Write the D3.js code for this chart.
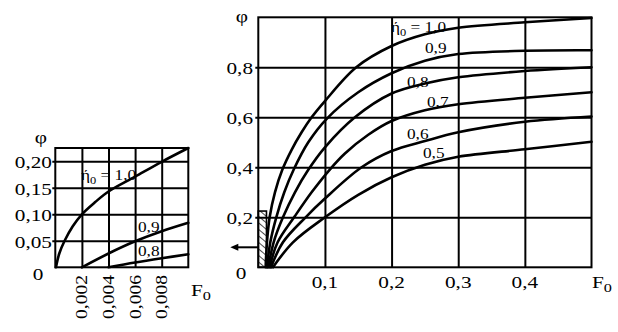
<!DOCTYPE html>
<html><head><meta charset="utf-8">
<script src="https://cdn.jsdelivr.net/npm/d3@7"></script>
<style>
html,body{margin:0;padding:0;background:#fff;}
svg{display:block;}
</style></head><body>
<svg id="chart" width="618" height="332"></svg>
<script>
// ---- Data: phi as a function of F0 for several eta0 values ----
// Main chart (F0 from 0 to 0.5)
const mainEtaLabels = ["1,0", "0,9", "0,8", "0,7", "0,6", "0,5"];
const mainEta10 = [[0.011,0],[0.013,0.1],[0.017,0.2],[0.025,0.3],[0.036,0.39],[0.05,0.47],[0.065,0.54],[0.08,0.6],[0.1,0.665],[0.147,0.8],[0.2,0.885],[0.25,0.932],[0.3,0.958],[0.4,0.98],[0.5,0.997]];
const mainEta09 = [[0.013,0],[0.018,0.1],[0.027,0.2],[0.039,0.3],[0.053,0.39],[0.075,0.5],[0.103,0.595],[0.15,0.7],[0.2,0.776],[0.25,0.826],[0.3,0.853],[0.4,0.866],[0.5,0.868]];
const mainEta08 = [[0.015,0],[0.023,0.1],[0.037,0.2],[0.055,0.3],[0.075,0.39],[0.1,0.48],[0.145,0.6],[0.2,0.695],[0.25,0.735],[0.3,0.76],[0.4,0.785],[0.5,0.8]];
const mainEta07 = [[0.017,0],[0.029,0.1],[0.055,0.205],[0.08,0.3],[0.107,0.39],[0.13,0.455],[0.165,0.53],[0.2,0.585],[0.25,0.628],[0.3,0.652],[0.4,0.678],[0.5,0.7]];
const mainEta06 = [[0.019,0],[0.037,0.1],[0.071,0.2],[0.1,0.275],[0.155,0.4],[0.2,0.465],[0.25,0.505],[0.3,0.54],[0.4,0.582],[0.5,0.603]];
const mainEta05 = [[0.022,0],[0.052,0.1],[0.1,0.2],[0.15,0.29],[0.2,0.36],[0.25,0.41],[0.3,0.442],[0.4,0.472],[0.5,0.502]];
const mainXTicks = [0.1, 0.2, 0.3, 0.4];
const mainXTickLabels = ["0,1", "0,2", "0,3", "0,4"];
const mainYTicks = [0.2, 0.4, 0.6, 0.8];
const mainYTickLabels = ["0,2", "0,4", "0,6", "0,8"];

// Inset chart (F0 from 0 to 0.01), the hatched region of the main chart
const insetEtaLabels = ["1,0", "0,9", "0,8"];
const insetEta10 = [[0.00005,0],[0.0003,0.026],[0.0007,0.05],[0.0013,0.077],[0.002,0.1],[0.003,0.123],[0.004,0.143],[0.006,0.171],[0.008,0.199],[0.01,0.225]];
const insetEta09 = [[0.002,0],[0.004,0.026],[0.006,0.049],[0.008,0.068],[0.01,0.084]];
const insetEta08 = [[0.004,0],[0.006,0.009],[0.008,0.017],[0.01,0.0245]];
const insetXTicks = [0.002, 0.004, 0.006, 0.008];
const insetXTickLabels = ["0,002", "0,004", "0,006", "0,008"];
const insetYTicks = [0.05, 0.10, 0.15, 0.20];
const insetYTickLabels = ["0,05", "0,10", "0,15", "0,20"];
const insetXMax = 0.01, insetYMax = 0.225;

// ---- Drawing ----
const svg = d3.select("#chart");
const FONT = "Liberation Serif";
const SX = 1.25; // horizontal stretch of the lettering

function label(g, x, y, str, size, anchor, base) {
  return g.append("text")
    .attr("transform", `translate(${x},${y}) scale(${SX},1)`)
    .attr("font-family", FONT)
    .attr("text-anchor", anchor || "start")
    .attr("dominant-baseline", base || "auto")
    .attr("font-size", size)
    .attr("fill", "#000")
    .text(str);
}

function etaLabel(g, x, y, value, size) {
  const t = g.append("text")
    .attr("transform", `translate(${x},${y}) scale(1.15,1)`)
    .attr("font-family", FONT)
    .attr("font-size", size)
    .attr("fill", "#000");
  t.append("tspan").text("\u03AE");
  t.append("tspan").attr("dy", 4).attr("font-size", size * 0.72).text("0");
  t.append("tspan").attr("dy", -4).text(" = " + value);
}

function plainLabel(g, x, y, str, size) {
  return g.append("text")
    .attr("transform", `translate(${x},${y}) scale(1.15,1)`)
    .attr("font-family", FONT)
    .attr("font-size", size).attr("fill", "#000").text(str);
}

function gridAndFrame(g, x, y, xt, yt) {
  const [x0, x1] = x.range(), [y0, y1] = y.range();
  // vertical grid lines via axis ticks
  g.append("g").attr("transform", `translate(0,${y0})`)
    .call(d3.axisBottom(x).tickValues(xt).tickSize(y1 - y0).tickFormat(""))
    .call(a => a.select(".domain").remove())
    .selectAll("line").attr("stroke", "#000").attr("stroke-width", 2);
  // horizontal grid lines with short outer stubs
  g.append("g").attr("transform", `translate(${x1},0)`)
    .call(d3.axisLeft(y).tickValues(yt).tickSize(x1 - x0 + 3).tickFormat(""))
    .call(a => a.select(".domain").remove())
    .selectAll("line").attr("stroke", "#000").attr("stroke-width", 2);
  g.append("rect").attr("x", x0).attr("y", y1).attr("width", x1 - x0).attr("height", y0 - y1)
    .attr("fill", "none").attr("stroke", "#000").attr("stroke-width", 2);
}

function curves(g, x, y, series) {
  const line = d3.line().x(d => x(d[0])).y(d => y(d[1])).curve(d3.curveCatmullRom.alpha(0.5));
  g.selectAll("path.curve").data(series).join("path")
    .attr("class", "curve")
    .attr("d", line)
    .attr("fill", "none").attr("stroke", "#000")
    .attr("stroke-width", 2.6).attr("stroke-linejoin", "round").attr("stroke-linecap", "round");
}

// Main chart
const mx = d3.scaleLinear().domain([0, 0.5]).range([258.3, 591.5]);
const my = d3.scaleLinear().domain([0, 1]).range([267.3, 17.3]);
const gm = svg.append("g");

// hatched rectangle marking the enlarged region
const defs = svg.append("defs");
const pat = defs.append("pattern").attr("id", "hatch").attr("patternUnits", "userSpaceOnUse")
  .attr("width", 5).attr("height", 5).attr("patternTransform", "rotate(-50)");
pat.append("line").attr("x1", 0).attr("y1", 0).attr("x2", 0).attr("y2", 5)
  .attr("stroke", "#000").attr("stroke-width", 1.4);
gm.append("rect")
  .attr("x", mx(0)).attr("y", my(insetYMax))
  .attr("width", mx(insetXMax) - mx(0) + 1.5).attr("height", my(0) - my(insetYMax))
  .attr("fill", "url(#hatch)").attr("stroke", "#000").attr("stroke-width", 1.6);

gridAndFrame(gm, mx, my, mainXTicks, mainYTicks);
curves(gm, mx, my, [mainEta10, mainEta09, mainEta08, mainEta07, mainEta06, mainEta05]);

// pointer from the hatched region toward the inset
const ay = my(0.08);
gm.append("line").attr("x1", mx(0)).attr("x2", mx(0) - 22).attr("y1", ay).attr("y2", ay)
  .attr("stroke", "#000").attr("stroke-width", 2);
gm.append("path").attr("d", `M${mx(0) - 28},${ay} L${mx(0) - 20},${ay - 3.5} L${mx(0) - 20},${ay + 3.5} Z`)
  .attr("fill", "#000");

mainXTicks.forEach((v, i) => label(gm, mx(v), 282, mainXTickLabels[i], 17, "middle", "central"));
mainYTicks.forEach((v, i) => label(gm, 253, my(v) + 1, mainYTickLabels[i], 17, "end", "central"));
label(gm, 241, 273, "0", 17, "middle", "central");
label(gm, 242, 16, "\u03C6", 17, "middle", "central");
const fm = label(gm, 592, 288, "F", 17, "start");
fm.append("tspan").attr("dy", 4).attr("font-size", 13).text("0");

// curve labels in the main chart
etaLabel(gm, 391, 32, mainEtaLabels[0], 15);
plainLabel(gm, 425, 53, mainEtaLabels[1], 15);
plainLabel(gm, 407, 87, mainEtaLabels[2], 15);
plainLabel(gm, 427, 107, mainEtaLabels[3], 15);
plainLabel(gm, 407, 139, mainEtaLabels[4], 15);
plainLabel(gm, 423, 158, mainEtaLabels[5], 15);

// Inset chart
const ix = d3.scaleLinear().domain([0, insetXMax]).range([55.3, 188.3]);
const iy = d3.scaleLinear().domain([0, insetYMax]).range([267.3, 148]);
const gi = svg.append("g");
gridAndFrame(gi, ix, iy, insetXTicks, insetYTicks);
curves(gi, ix, iy, [insetEta10, insetEta09, insetEta08]);

insetYTicks.forEach((v, i) => label(gi, 52, iy(v) + 1, insetYTickLabels[i], 17, "end", "central"));
insetXTicks.forEach((v, i) => {
  gi.append("text")
    .attr("transform", `translate(${ix(v)},275) rotate(-90) scale(1.15,1)`)
    .attr("font-family", FONT)
    .attr("text-anchor", "end").attr("dominant-baseline", "central")
    .attr("font-size", 17).attr("fill", "#000").text(insetXTickLabels[i]);
});
label(gi, 38, 274, "0", 17, "middle", "central");
label(gi, 41, 137, "\u03C6", 17, "middle", "central");
const fi = label(gi, 191, 296, "F", 17, "start");
fi.append("tspan").attr("dy", 4).attr("font-size", 13).text("0");

etaLabel(gi, 81, 180, insetEtaLabels[0], 15);
plainLabel(gi, 138, 232, insetEtaLabels[1], 15);
plainLabel(gi, 138, 256, insetEtaLabels[2], 15);
</script>
</body></html>
